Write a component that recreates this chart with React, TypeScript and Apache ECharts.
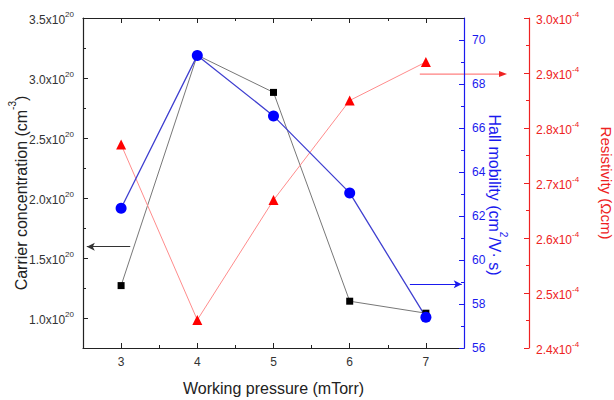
import { useEffect, useRef } from "react";
import * as echarts from "echarts";

// ---- data ----
const pressure = [3, 4, 5, 6, 7];
const carrierConc = [1.27e20, 3.19e20, 2.88e20, 1.14e20, 1.04e20];
const hallMobility = [62.35, 69.3, 66.55, 63.05, 57.4];
const resistivity = [2.77e-4, 2.451e-4, 2.669e-4, 2.85e-4, 2.92e-4];

// ---- tick values ----
const xMajor = [3, 4, 5, 6, 7];
const xMinor = [3.5, 4.5, 5.5, 6.5];
const carrierMajor = [1.0e20, 1.5e20, 2.0e20, 2.5e20, 3.0e20, 3.5e20];
const carrierMinor = [1.25e20, 1.75e20, 2.25e20, 2.75e20, 3.25e20];
const mobilityMajor = [56, 58, 60, 62, 64, 66, 68, 70];
const mobilityMinor = [57, 59, 61, 63, 65, 67, 69];
const resistMajor = [2.4e-4, 2.5e-4, 2.6e-4, 2.7e-4, 2.8e-4, 2.9e-4, 3.0e-4];
const resistMinor = [2.45e-4, 2.55e-4, 2.65e-4, 2.75e-4, 2.85e-4, 2.95e-4];

// ---- annotation arrows (data units) ----
const carrierArrow = { y: 1.594e20, from: 3.12, to: 2.55 };
const mobilityArrow = { y: 58.9, from: 6.79, to: 7.47 };
const resistArrow = { y: 2.898e-4, from: 6.92 };

const FONT = "Liberation Sans, Arial, sans-serif";
const BLUE = "#1a1aee";
const RED = "#ee2222";
const BLACK = "#222";

const supRich = (color: string, size: number, lh: number, supSize: number, supLh: number) => ({
  n: { fontSize: size, lineHeight: lh, verticalAlign: "bottom", color, fontFamily: FONT },
  s: { fontSize: supSize, lineHeight: supLh, verticalAlign: "top", color, fontFamily: FONT },
});

export default function App() {
  const ref = useRef<HTMLDivElement>(null);
  useEffect(() => {
    if (!ref.current) return;
    const chart = echarts.init(ref.current, null, { renderer: "svg" });

    const minorAxisBase = {
      axisLine: { show: false },
      axisLabel: { show: false },
      splitLine: { show: false },
    };

    const option: any = {
      animation: false,
      backgroundColor: "#fff",
      grid: { left: 83, right: 150, top: 18, bottom: 52, containLabel: false, outerBoundsMode: "none" },
      xAxis: [
        {
          type: "value",
          position: "bottom",
          min: 2.5,
          max: 7.5,
          axisLine: { lineStyle: { color: BLACK, width: 1.2 } },
          axisTick: { inside: true, length: 5, customValues: xMajor, lineStyle: { color: BLACK } },
          axisLabel: {
            customValues: xMajor,
            margin: 8,
            color: "#333",
            fontSize: 12,
            fontFamily: FONT,
          },
          splitLine: { show: false },
          name: "Working pressure (mTorr)",
          nameLocation: "middle",
          nameGap: 32,
          nameMoveOverlap: false,
          nameTextStyle: { fontSize: 16, color: BLACK, fontFamily: FONT },
        },
        {
          type: "value",
          position: "bottom",
          min: 2.5,
          max: 7.5,
          ...minorAxisBase,
          axisTick: { inside: true, length: 3, customValues: xMinor, lineStyle: { color: BLACK } },
        },
        {
          type: "value",
          position: "top",
          min: 2.5,
          max: 7.5,
          axisLine: { lineStyle: { color: BLACK, width: 1.2 } },
          axisTick: { inside: true, length: 5, customValues: xMajor, lineStyle: { color: BLACK } },
          axisLabel: { show: false },
          splitLine: { show: false },
        },
        {
          type: "value",
          position: "top",
          min: 2.5,
          max: 7.5,
          ...minorAxisBase,
          axisTick: { inside: true, length: 3, customValues: xMinor, lineStyle: { color: BLACK } },
        },
      ],
      yAxis: [
        {
          type: "value",
          position: "left",
          min: 0.75e20,
          max: 3.5e20,
          axisLine: { show: true, lineStyle: { color: BLACK, width: 1.2 } },
          axisTick: { show: true, inside: true, length: 5, customValues: carrierMajor, lineStyle: { color: BLACK } },
          axisLabel: {
            customValues: carrierMajor,
            margin: 9,
            formatter: (v: number) => `{n|${(v / 1e20).toFixed(1)}x10}{s|20}`,
            rich: supRich("#333", 12, 16, 8, 6),
          },
          splitLine: { show: false },
          name: "{n|Carrier concentration (cm}{s|-3}{n|)}",
          nameLocation: "middle",
          nameGap: 54,
          nameRotate: 90,
          nameMoveOverlap: false,
          nameTextStyle: { padding: [0, 20, 0, 0], rich: supRich(BLACK, 16, 22, 10, 8) },
        },
        {
          type: "value",
          position: "left",
          min: 0.75e20,
          max: 3.5e20,
          ...minorAxisBase,
          axisTick: { show: true, inside: true, length: 3, customValues: carrierMinor, lineStyle: { color: BLACK } },
        },
        {
          type: "value",
          position: "right",
          offset: 0,
          min: 56,
          max: 71,
          axisLine: { show: true, lineStyle: { color: BLUE, width: 1.2 } },
          axisTick: { show: true, inside: true, length: 5, customValues: mobilityMajor, lineStyle: { color: BLUE } },
          axisLabel: {
            customValues: mobilityMajor,
            margin: 8,
            color: BLUE,
            fontSize: 12,
            fontFamily: FONT,
          },
          splitLine: { show: false },
          name: "{n|Hall mobility (cm}{s|2}{n|/V· s)}",
          nameLocation: "middle",
          nameGap: 22,
          nameRotate: -90,
          nameMoveOverlap: false,
          nameTextStyle: { padding: [0, 0, 0, 24], rich: supRich(BLUE, 16, 22, 10, 8) },
        },
        {
          type: "value",
          position: "right",
          offset: 0,
          min: 56,
          max: 71,
          ...minorAxisBase,
          axisTick: { show: true, inside: true, length: 3, customValues: mobilityMinor, lineStyle: { color: BLUE } },
        },
        {
          type: "value",
          position: "right",
          offset: 65,
          min: 2.4e-4,
          max: 3.0e-4,
          axisLine: { show: true, lineStyle: { color: RED, width: 1.2 } },
          axisTick: { show: true, inside: true, length: 5, customValues: resistMajor, lineStyle: { color: RED } },
          axisLabel: {
            customValues: resistMajor,
            margin: 7,
            formatter: (v: number) => `{n|${(v / 1e-4).toFixed(1)}x10}{s|-4}`,
            rich: supRich(RED, 12, 16, 8, 6),
          },
          splitLine: { show: false },
          name: "Resistivity (Ωcm)",
          nameLocation: "middle",
          nameGap: 70,
          nameRotate: -90,
          nameMoveOverlap: false,
          nameTextStyle: { fontSize: 15, color: RED, fontFamily: FONT },
        },
        {
          type: "value",
          position: "right",
          offset: 65,
          min: 2.4e-4,
          max: 3.0e-4,
          ...minorAxisBase,
          axisTick: { show: true, inside: true, length: 3, customValues: resistMinor, lineStyle: { color: RED } },
        },
      ],
      series: [
        {
          name: "Carrier concentration",
          type: "line",
          xAxisIndex: 0,
          yAxisIndex: 0,
          data: pressure.map((p, i) => [p, carrierConc[i]]),
          symbol: "rect",
          symbolSize: 7,
          itemStyle: { color: "#000" },
          lineStyle: { color: "#777", width: 1 },
          markLine: {
            silent: true,
            symbol: ["none", "arrow"],
            symbolSize: [6, 8],
            label: { show: false },
            lineStyle: { color: "#333", width: 1, type: "solid" },
            data: [[{ coord: [carrierArrow.from, carrierArrow.y] }, { coord: [carrierArrow.to, carrierArrow.y] }]],
          },
        },
        {
          name: "Resistivity",
          type: "line",
          xAxisIndex: 0,
          yAxisIndex: 4,
          data: pressure.map((p, i) => [p, resistivity[i]]),
          symbol: "triangle",
          symbolSize: 10,
          itemStyle: { color: "#f00" },
          lineStyle: { color: "#ff8c8c", width: 1 },
        },
        {
          name: "Hall mobility",
          type: "line",
          xAxisIndex: 0,
          yAxisIndex: 2,
          data: pressure.map((p, i) => [p, hallMobility[i]]),
          symbol: "circle",
          symbolSize: 11,
          itemStyle: { color: "#0000ff" },
          lineStyle: { color: "#4040d0", width: 1.3 },
          markLine: {
            silent: true,
            symbol: ["none", "arrow"],
            symbolSize: [6, 8],
            label: { show: false },
            lineStyle: { color: BLUE, width: 1, type: "solid" },
            data: [[{ coord: [mobilityArrow.from, mobilityArrow.y] }, { coord: [mobilityArrow.to, mobilityArrow.y] }]],
          },
        },
      ],
    };
    chart.setOption(option);

    // red arrow extends beyond the grid towards the resistivity axis
    const start = chart.convertToPixel({ xAxisIndex: 0, yAxisIndex: 4 }, [resistArrow.from, resistArrow.y]) as number[];
    const edge = chart.convertToPixel({ xAxisIndex: 0, yAxisIndex: 4 }, [7.5, resistArrow.y]) as number[];
    if (start && edge) {
      const endX = edge[0] + 43;
      const y = start[1];
      chart.setOption({
        graphic: [
          {
            type: "line",
            silent: true,
            shape: { x1: start[0], y1: y, x2: endX - 6, y2: y },
            style: { stroke: "#ff6060", lineWidth: 1 },
          },
          {
            type: "polygon",
            silent: true,
            shape: { points: [[endX, y], [endX - 8, y - 3], [endX - 8, y + 3]] },
            style: { fill: RED },
          },
        ],
      });
    }

    return () => chart.dispose();
  }, []);

  return (
    <div
      ref={ref}
      style={{ position: "fixed", left: 0, top: 0, width: 614, height: 400, background: "#fff" }}
    />
  );
}
